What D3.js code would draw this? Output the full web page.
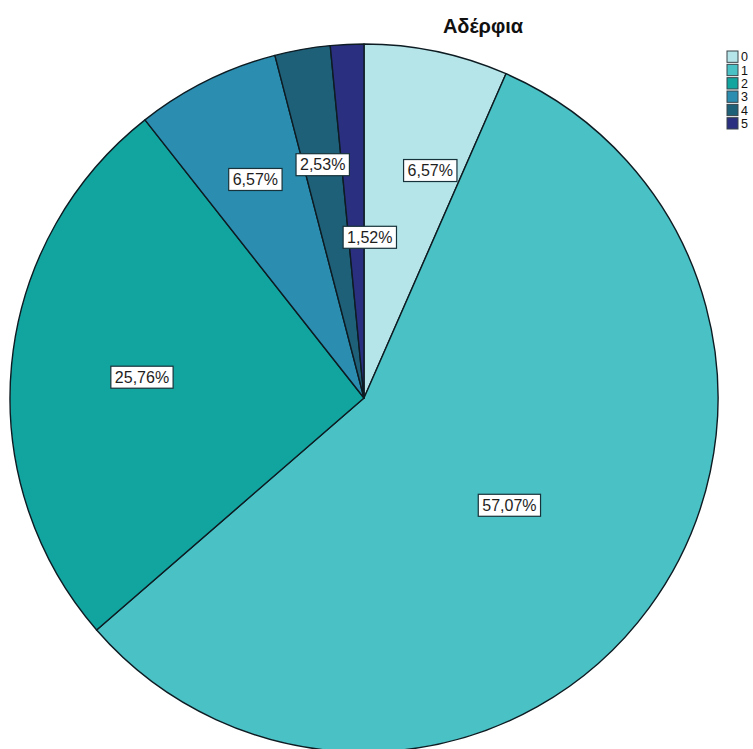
<!DOCTYPE html>
<html>
<head>
<meta charset="utf-8">
<script src="https://cdn.jsdelivr.net/npm/d3@7"></script>
<style>
  html, body { margin: 0; padding: 0; background: #fff; }
  svg { display: block; }
</style>
</head>
<body>
<svg id="chart" width="753" height="749"></svg>
<script>
// Number of siblings – share of respondents
const categories = ["0", "1", "2", "3", "4", "5"];
const percents = [6.57, 57.07, 25.76, 6.57, 2.53, 1.52];
const labels = ["6,57%", "57,07%", "25,76%", "6,57%", "2,53%", "1,52%"];
const colors = ["#b5e5e8", "#4ac1c4", "#12a5a0", "#2b8daf", "#1f6079", "#2b2f80"];
const title = "Αδέρφια";

const cx = 364, cy = 398, R = 354;

// label placement: radius fraction and angular nudge (degrees) per slice
const labelRadius = [0.67, 0.51, 0.63, 0.69, 0.67, 0.455];
const labelNudge = [4.4, 0, 0, 0, 0, 4.8];

const svg = d3.select("#chart");

const data = categories.map((c, i) => ({ cat: c, value: percents[i], label: labels[i] }));

const color = d3.scaleOrdinal().domain(categories).range(colors);

const pie = d3.pie().value(d => d.value).sort(null).startAngle(0).endAngle(2 * Math.PI);
const arcs = pie(data);
const arc = d3.arc().innerRadius(0).outerRadius(R);

const g = svg.append("g").attr("transform", `translate(${cx},${cy})`);

g.selectAll("path.slice")
  .data(arcs)
  .enter().append("path")
  .attr("class", "slice")
  .attr("d", arc)
  .attr("fill", d => color(d.data.cat))
  .attr("stroke", "#0d1b22")
  .attr("stroke-width", 1.4)
  .attr("stroke-linejoin", "round");

// value labels in white boxes
const lg = g.selectAll("g.lbl")
  .data(arcs)
  .enter().append("g")
  .attr("class", "lbl")
  .attr("transform", (d, i) => {
    const a = (d.startAngle + d.endAngle) / 2 + labelNudge[i] * Math.PI / 180;
    const r = R * labelRadius[i];
    return `translate(${r * Math.sin(a)},${-r * Math.cos(a)})`;
  });

lg.append("text")
  .attr("text-anchor", "middle")
  .attr("dy", "0.36em")
  .attr("font-family", "Liberation Sans, Arial, sans-serif")
  .attr("font-size", 16)
  .attr("fill", "#1e1e1e")
  .text(d => d.data.label);

lg.each(function () {
  const t = d3.select(this).select("text");
  const b = t.node().getBBox();
  d3.select(this).insert("rect", "text")
    .attr("x", b.x - 4)
    .attr("y", b.y - 2.5)
    .attr("width", b.width + 8)
    .attr("height", b.height + 5)
    .attr("fill", "#fff")
    .attr("stroke", "#17323a")
    .attr("stroke-width", 1.2);
});

// title
svg.append("text")
  .attr("x", 483)
  .attr("y", 33)
  .attr("text-anchor", "middle")
  .attr("font-family", "Liberation Sans, Arial, sans-serif")
  .attr("font-weight", "bold")
  .attr("font-size", 20)
  .attr("fill", "#111")
  .text(title);

// legend
const legY = d3.scaleBand().domain(categories).range([49, 131]).padding(0.15);
const leg = svg.append("g");
leg.selectAll("rect")
  .data(categories)
  .enter().append("rect")
  .attr("x", 727)
  .attr("y", d => legY(d))
  .attr("width", 11)
  .attr("height", legY.bandwidth())
  .attr("fill", d => color(d))
  .attr("stroke", "#3a4448")
  .attr("stroke-width", 1);
leg.selectAll("text")
  .data(categories)
  .enter().append("text")
  .attr("x", 741)
  .attr("y", d => legY(d) + legY.bandwidth() / 2)
  .attr("dy", "0.36em")
  .attr("font-family", "Liberation Sans, Arial, sans-serif")
  .attr("font-size", 12.5)
  .attr("fill", "#111")
  .text(d => d);
</script>
</body>
</html>
